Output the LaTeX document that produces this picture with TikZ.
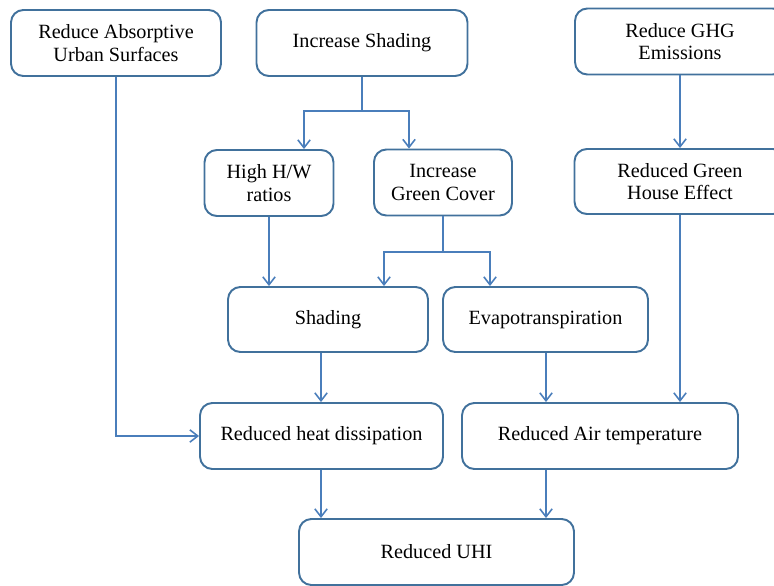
\documentclass[tikz,border=0pt]{standalone}
\usepackage{fontspec}
\setmainfont{Liberation Serif}
\usetikzlibrary{arrows.meta}

\definecolor{boxline}{HTML}{41719C}
\definecolor{arrline}{HTML}{4A7EBB}

\tikzset{
  box/.style={draw=boxline, line width=1.1pt, rounded corners=7pt,
    align=center, minimum height=1.32cm, inner sep=2pt,
    font=\fontsize{11.5}{12.8}\selectfont},
  arr/.style={draw=arrline, line width=1.1pt,
    -{Straight Barb[length=4.5pt, width=7pt, line width=0.9pt]}},
  link/.style={draw=arrline, line width=1.1pt}
}

\begin{document}
\begin{tikzpicture}[x=0.02cm, y=-0.02cm]
  \useasboundingbox (0,0) rectangle (774,585);

  % top row
  \node[box, minimum width=4.2cm]  (ras) at (116,43)   {Reduce Absorptive\\Urban Surfaces};
  \node[box, minimum width=4.22cm] (ish) at (362,43)   {Increase Shading};
  \node[box, minimum width=4.2cm]  (ghg) at (680,41.5) {Reduce GHG\\Emissions};

  % second row
  \node[box, minimum width=2.58cm] (hw)  at (269,183)   {High H/W\\ratios};
  \node[box, minimum width=2.76cm] (gc)  at (443,182.5) {Increase\\Green Cover};
  \node[box, minimum width=4.22cm, minimum height=1.3cm] (rgh) at (680,181.5) {Reduced Green\\House Effect};

  % third row
  \node[box, minimum width=4cm,  minimum height=1.3cm] (sh) at (328,319.5)   {Shading};
  \node[box, minimum width=4.1cm, minimum height=1.3cm] (ev) at (545.5,319.5) {Evapotranspiration};

  % fourth row
  \node[box, minimum width=4.86cm] (rhd) at (321.5,436) {Reduced heat dissipation};
  \node[box, minimum width=5.52cm] (rat) at (600,436)   {Reduced Air temperature};

  % bottom
  \node[box, minimum width=5.5cm] (uhi) at (436.5,552) {Reduced UHI};

  % split points
  \coordinate (s1)  at (362,111);
  \coordinate (s1l) at (304,111);
  \coordinate (s1r) at (409,111);
  \coordinate (s2)  at (443,252);
  \coordinate (s2l) at (384,252);
  \coordinate (s2r) at (490,252);
  \coordinate (c1)  at (116,436);
  \coordinate (xl)  at (321,0);
  \coordinate (xr)  at (546,0);

  % Increase Shading
  \draw[link] (ish.south) -- (s1);
  \draw[arr] (s1) -- (s1l) -- (s1l |- hw.north);
  \draw[arr] (s1) -- (s1r) -- (s1r |- gc.north);

  % Increase Green Cover
  \draw[link] (gc.south) -- (s2);
  \draw[arr] (s2) -- (s2l) -- (s2l |- sh.north);
  \draw[arr] (s2) -- (s2r) -- (s2r |- ev.north);

  % straight links
  \draw[arr] (hw.south) -- (hw.south |- sh.north);
  \draw[arr] (ghg.south) -- (ghg.south |- rgh.north);
  \draw[arr] (rgh.south) -- (rgh.south |- rat.north);
  \draw[arr] (ras.south) -- (c1) -- (rhd.west);
  \draw[arr] (xl |- sh.south) -- (xl |- rhd.north);
  \draw[arr] (xr |- ev.south) -- (xr |- rat.north);
  \draw[arr] (xl |- rhd.south) -- (xl |- uhi.north);
  \draw[arr] (xr |- rat.south) -- (xr |- uhi.north);
\end{tikzpicture}
\end{document}
